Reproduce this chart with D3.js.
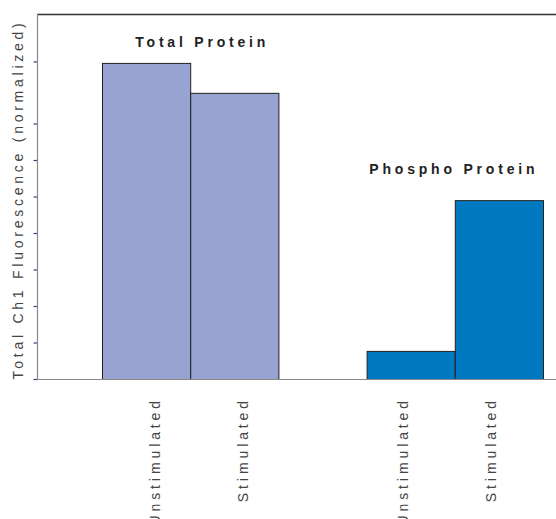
<!DOCTYPE html>
<html><head><meta charset="utf-8">
<script src="https://cdn.jsdelivr.net/npm/d3@7"></script>
<style>body{margin:0;background:#fff}svg{display:block}</style>
</head><body>
<script>
const groups = ["Total Protein", "Phospho Protein"];
const conditions = ["Unstimulated", "Stimulated"];
const totalValues = [8.66, 7.84];
const phosphoValues = [0.77, 4.90];
const yTicks = [0, 1, 2, 3, 4, 5, 6, 7, 8.7];
const yTitle = "Total Ch1 Fluorescence (normalized)";

(function () {
const W = 556, H = 519;
const mLeft = 37, mTop = 14, mBottom = 379, mRight = 556;
const svg = d3.select("body").append("svg").attr("width", W).attr("height", H);

const slots = ["t-u", "t-s", "gap", "p-u", "p-s"];
const x = d3.scaleBand().domain(slots).range([102, 543]).padding(0);
const y = d3.scaleLinear().domain([0, 10]).range([mBottom, mTop]);

const bars = [
  {slot: "t-u", group: 0, cond: 0, v: totalValues[0]},
  {slot: "t-s", group: 0, cond: 1, v: totalValues[1]},
  {slot: "p-u", group: 1, cond: 0, v: phosphoValues[0]},
  {slot: "p-s", group: 1, cond: 1, v: phosphoValues[1]}
];
const colors = ["#99a3d1", "#0079c1"];

svg.append("line").attr("x1", mLeft).attr("x2", mRight).attr("y1", mTop + 0.5).attr("y2", mTop + 0.5)
  .attr("stroke", "#333").attr("stroke-width", 1.5);

svg.selectAll("rect.bar").data(bars).enter().append("rect")
  .attr("x", d => x(d.slot) + 0.5)
  .attr("width", x.bandwidth())
  .attr("y", d => y(d.v) + 0.5)
  .attr("height", d => y(0) - y(d.v))
  .attr("fill", d => colors[d.group])
  .attr("stroke", "#222").attr("stroke-width", 1);

const yAxis = d3.axisLeft(y).tickValues(yTicks).tickSize(4).tickFormat("");
const ga = svg.append("g").attr("transform", `translate(${mLeft + 0.5},0)`).call(yAxis);
ga.select(".domain").remove();
ga.selectAll(".tick line").attr("stroke", "#2a4a78").attr("stroke-width", 1.2);
svg.append("line").attr("x1", mLeft + 0.5).attr("x2", mLeft + 0.5).attr("y1", mTop).attr("y2", mBottom + 0.5)
  .attr("stroke", "#888").attr("stroke-width", 1.2);
svg.append("line").attr("x1", mLeft).attr("x2", mRight).attr("y1", mBottom + 0.5).attr("y2", mBottom + 0.5)
  .attr("stroke", "#888").attr("stroke-width", 1.2);

svg.append("text")
  .attr("transform", `translate(23,${(mTop + mBottom) / 2 + 3}) rotate(-90)`)
  .attr("text-anchor", "middle")
  .style("font-family", "Liberation Sans, Arial, sans-serif")
  .style("font-size", "14px").style("letter-spacing", "3.75px")
  .attr("fill", "#444").text(yTitle);

const labelDx = [9, -8];
svg.selectAll("text.xl").data(bars).enter().append("text")
  .attr("transform", d => `translate(${x(d.slot) + x.bandwidth() / 2 + labelDx[d.group] + 5},${mBottom + 18}) rotate(-90)`)
  .attr("text-anchor", "end")
  .style("font-family", "Liberation Sans, Arial, sans-serif")
  .style("font-size", "14px").style("letter-spacing", "3.9px")
  .attr("fill", "#444").text(d => conditions[d.cond]);

const groupInfo = [
  {name: groups[0], slot0: "t-u", slot1: "t-s", v: totalValues[0], dx: 12, dy: 16},
  {name: groups[1], slot0: "p-u", slot1: "p-s", v: phosphoValues[1], dx: -1, dy: 26}
];
svg.selectAll("text.gl").data(groupInfo).enter().append("text")
  .attr("x", d => (x(d.slot0) + x(d.slot1) + x.bandwidth()) / 2 + d.dx)
  .attr("y", d => y(d.v) - d.dy)
  .attr("text-anchor", "middle")
  .style("font-family", "Liberation Sans, Arial, sans-serif")
  .style("font-size", "14px").style("font-weight", "bold").style("letter-spacing", "3.8px")
  .attr("fill", "#222").text(d => d.name);
})();
</script>
</body></html>
